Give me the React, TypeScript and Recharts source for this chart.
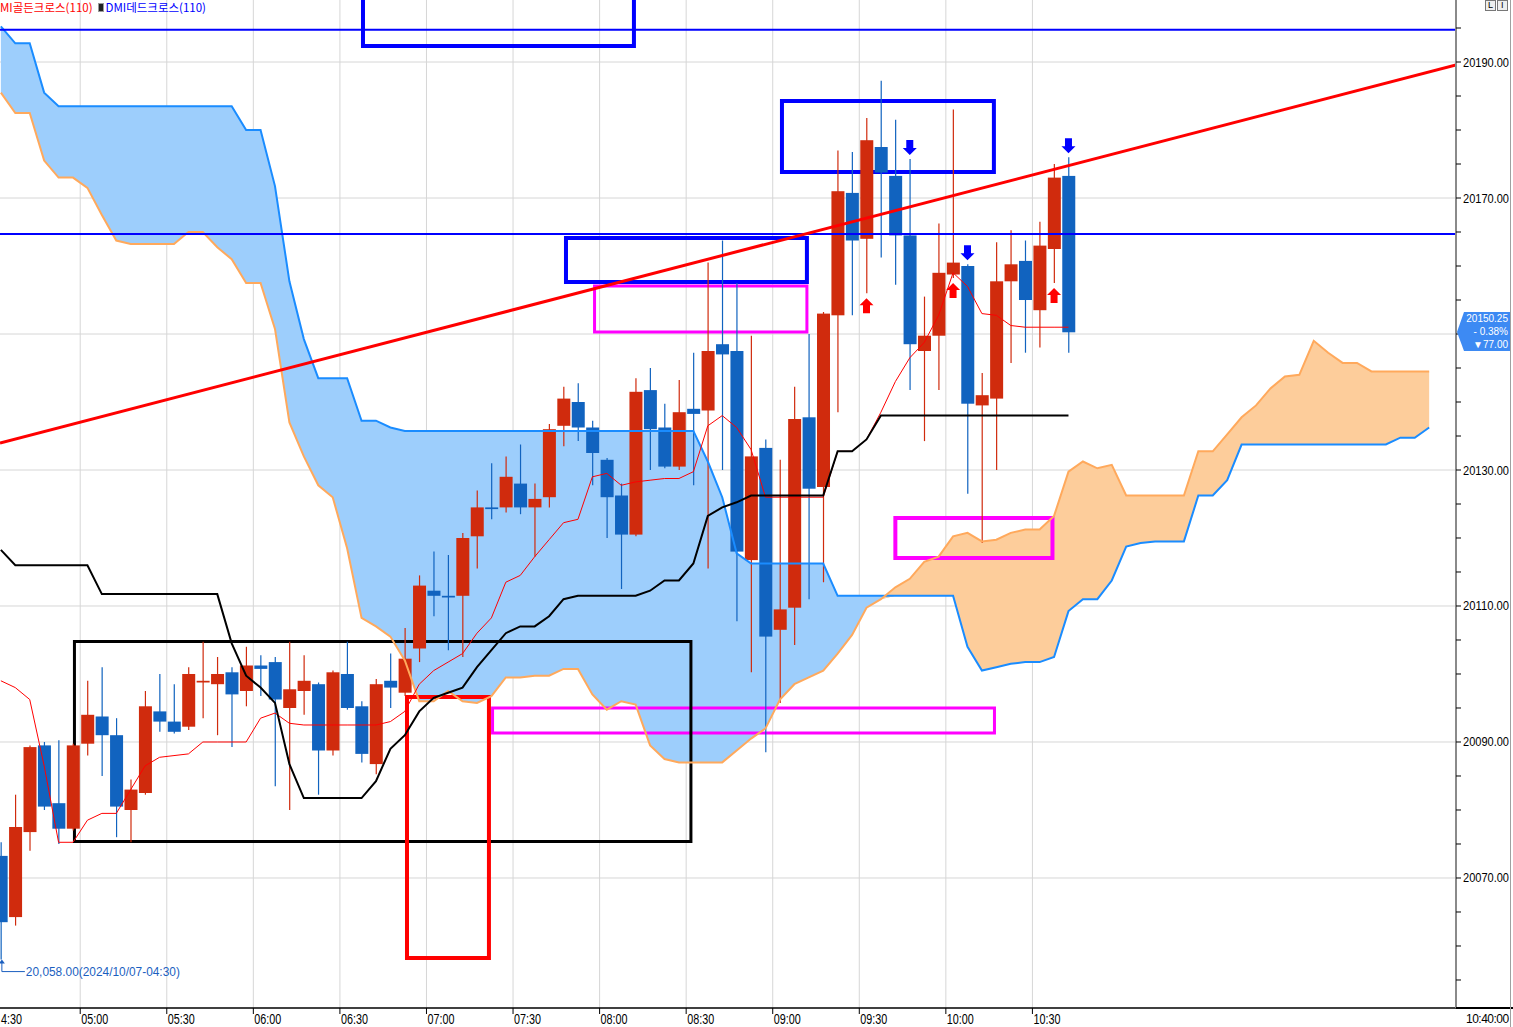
import {
  Area,
  Bar,
  CartesianGrid,
  ComposedChart,
  Line,
  ReferenceArea,
  ReferenceDot,
  ReferenceLine,
  XAxis,
  YAxis,
} from "recharts";

const CHART_WIDTH = 1513;
const CHART_HEIGHT = 1027;

const UP_COLOR = "#d02b0d";
const DOWN_COLOR = "#1163bf";
const SPAN1_COLOR = "#1a8cff";
const SPAN2_COLOR = "#ffa95c";
const CLOUD_BLUE = "#9dcefc";
const CLOUD_ORANGE = "#fdcd9b";
const GRID_COLOR = "#d6d6d6";
const SIGNAL_BLUE = "#0000ff";
const SIGNAL_RED = "#ff0000";

const X_DOMAIN: [number, number] = [-0.06, 100.86];
const Y_DOMAIN: [number, number] = [20050.88, 20199.12];

// 5-minute candles, 04:30 .. 10:40
const openPrices = [
  20073.25, 20064.25, 20076.75, 20089.5, 20081, 20077.25, 20089.75, 20093.75, 20091, 20080,
  20082.5, 20094.5, 20093, 20092.25, 20098.75, 20098.5, 20100.25, 20097.5, 20101.25, 20101.75,
  20095, 20097.5, 20098.5, 20088.75, 20100, 20095.25, 20086.75, 20099, 20097.25, 20103.75,
  20112.25, 20111.5, 20111.5, 20120.25, 20124.5, 20124.5, 20128, 20124.5, 20126, 20136.5,
  20140, 20136.25, 20131.5, 20126.25, 20120.5, 20141.75, 20136.25, 20130.5, 20139, 20138.75,
  20148.5, 20147.5, 20116.75, 20133.25, 20106.5, 20109.75, 20137.75, 20127.5, 20152.75, 20170.75,
  20164, 20177.5, 20173.25, 20164.5, 20147.5, 20149.75, 20158.75, 20160, 20139.5, 20140.5,
  20157.75, 20160.75, 20153.5, 20162.5, 20173.25,
];
const highPrices = [
  20075.25, 20082.25, 20089.5, 20090, 20090.25, 20089.75, 20099, 20101, 20093.5, 20084.5,
  20097.5, 20100, 20098.5, 20101, 20104.75, 20102.5, 20101, 20104, 20102.75, 20102.5,
  20104.75, 20102.75, 20098.75, 20100.5, 20104.75, 20096, 20099.25, 20103, 20106.75, 20114.5,
  20118, 20117.5, 20120.75, 20127, 20131, 20132, 20133.75, 20128, 20136.75, 20142.25,
  20142.75, 20137.25, 20131.75, 20128, 20143.5, 20145, 20139.75, 20143.25, 20147.25, 20160.5,
  20163.75, 20157.5, 20149.75, 20134.5, 20131.5, 20142.25, 20150, 20153.25, 20177, 20176.75,
  20181.75, 20187.25, 20181.5, 20175.75, 20155.5, 20166.25, 20183, 20160.25, 20144.25, 20163.5,
  20165.25, 20163.75, 20166.5, 20175, 20176,
];
const lowPrices = [
  20058, 20063, 20074, 20080, 20075, 20077, 20088, 20085, 20076, 20075.25,
  20082.25, 20091.5, 20091.25, 20091.75, 20093.5, 20091, 20089.25, 20095.25, 20096.75, 20083.5,
  20080, 20094, 20082.25, 20088, 20094.75, 20087, 20085.25, 20095, 20096.75, 20101.75,
  20108.5, 20103.5, 20102.5, 20115.5, 20122.75, 20123.75, 20123.5, 20117.25, 20124.5, 20133.5,
  20134.25, 20127.75, 20120, 20112.5, 20120.25, 20130, 20130.25, 20130, 20127.75, 20115.5,
  20130, 20107.75, 20100.25, 20088.5, 20095.75, 20104.25, 20111, 20113.5, 20138.5, 20152.75,
  20156, 20161.25, 20157.25, 20141.75, 20134.25, 20141.75, 20158.25, 20126.5, 20119.25, 20130,
  20145.75, 20147.25, 20148, 20157.5, 20147.25,
];
const closePrices = [
  20063.5, 20077.5, 20089.25, 20080.5, 20077.25, 20089.5, 20094, 20091, 20080.5, 20083,
  20095.25, 20093, 20091.5, 20100, 20099, 20100, 20097, 20101.25, 20100.75, 20096.25,
  20097.75, 20099, 20088.75, 20100.25, 20095, 20088.25, 20098.5, 20098, 20102.25, 20113,
  20111.5, 20111.25, 20120, 20124.5, 20124.25, 20129, 20124.5, 20125.75, 20136, 20140.5,
  20136.25, 20132.5, 20126, 20120.5, 20141.5, 20136, 20130.5, 20138.5, 20138.25, 20147.5,
  20147, 20118, 20132, 20105.5, 20109.5, 20137.5, 20127.25, 20153, 20171, 20163.75,
  20178.5, 20173.75, 20164.5, 20148.5, 20149.75, 20159, 20160.5, 20139.75, 20141, 20157.75,
  20160.25, 20155, 20163, 20173, 20150.25,
];

// ichimoku: conversion / base lines (per candle)
const conversionLine = [
  20099, 20098, 20096.25, 20086.5, 20075.25, 20075.25, 20078.5, 20079.5, 20079.5, 20083,
  20086.5, 20087.75, 20088, 20088.25, 20090, 20090, 20090, 20090, 20093.5, 20094.25,
  20092.75, 20092.5, 20092.5, 20092.5, 20092.5, 20092.5, 20092.5, 20093, 20094.5, 20098.5,
  20100.5, 20101.75, 20103, 20106, 20108.25, 20113.5, 20114.5, 20117.25, 20119.75, 20122.25,
  20122.75, 20129, 20129.5, 20127.75, 20128.25, 20128.5, 20128.75, 20128.75, 20129.75, 20136.5,
  20138, 20136.25, 20133, 20126, 20126, 20126, 20126, 20126, 20132.75, 20132.75,
  20134.5, 20138.5, 20143, 20146.5, 20148.75, 20152.75, 20159, 20157, 20153, 20152.75,
  20151.25, 20151, 20151, 20151, 20151,
];
const baseLine = [
  20118.25, 20116, 20116, 20116, 20116, 20116, 20116, 20111.75, 20111.75, 20111.75,
  20111.75, 20111.75, 20111.75, 20111.75, 20111.75, 20111.75, 20104.5, 20099.75, 20098, 20095.75,
  20086.75, 20081.75, 20081.75, 20081.75, 20081.75, 20081.75, 20084.25, 20089, 20091, 20094.5,
  20096.5, 20097.25, 20098, 20101, 20103.5, 20106, 20107, 20107, 20108.5, 20111,
  20111.5, 20111.5, 20111.5, 20111.5, 20111.5, 20112.25, 20113.75, 20113.75, 20116.25, 20123.25,
  20124.5, 20125.25, 20126.25, 20126.25, 20126.25, 20126.25, 20126.25, 20126.25, 20132.75, 20132.75,
  20134.5, 20138, 20138, 20138, 20138, 20138, 20138, 20138, 20138, 20138,
  20138, 20138, 20138, 20138, 20138,
];

// leading spans (cloud runs 25 bars past the last candle)
const leadingSpan1 = [
  20195.25, 20192.75, 20192.75, 20185.5, 20183.5, 20183.5, 20183.5, 20183.5, 20183.5, 20183.5,
  20183.5, 20183.5, 20183.5, 20183.5, 20183.5, 20183.5, 20183.5, 20180, 20180, 20171.75,
  20157.75, 20149.25, 20143.5, 20143.5, 20143.5, 20137.25, 20137.25, 20136.25, 20135.75, 20135.75,
  20135.75, 20135.75, 20135.75, 20135.75, 20135.75, 20135.75, 20135.75, 20135.75, 20135.75, 20135.75,
  20135.75, 20135.75, 20135.75, 20135.75, 20135.75, 20135.75, 20135.75, 20135.75, 20135.75, 20131.25,
  20126, 20117.75, 20116.25, 20116.25, 20116.25, 20116.25, 20116.25, 20116.25, 20111.5, 20111.5,
  20111.5, 20111.5, 20111.5, 20111.5, 20111.5, 20111.5, 20111.5, 20104, 20100.5, 20101,
  20101.5, 20101.75, 20101.75, 20102.5, 20109.25, 20111, 20111, 20113.75, 20118.75, 20119.25,
  20119.5, 20119.5, 20119.5, 20126.25, 20126.25, 20128.5, 20133.75, 20133.75, 20133.75, 20133.75,
  20133.75, 20133.75, 20133.75, 20133.75, 20133.75, 20133.75, 20133.75, 20134.75, 20134.75, 20136.25,
];
const leadingSpan2 = [
  20185.5, 20182.5, 20182.5, 20175.5, 20173, 20173, 20171.5, 20167.5, 20163.75, 20163.25,
  20163.25, 20163.25, 20163.25, 20165, 20165, 20162.75, 20161, 20157.5, 20157.5, 20150.75,
  20137, 20132, 20127.75, 20126, 20118.5, 20108.25, 20107, 20105.5, 20102, 20096,
  20096, 20097.5, 20096, 20095.75, 20096.75, 20099.5, 20099.5, 20099.75, 20099.75, 20100.75,
  20100.75, 20097, 20094.75, 20096, 20095.5, 20089.5, 20087.5, 20087, 20087, 20087,
  20087, 20088.75, 20090.5, 20092, 20096.25, 20098.5, 20099.5, 20100.5, 20103, 20105.75,
  20109.75, 20111, 20112.75, 20114, 20116.5, 20117.25, 20120.25, 20120.75, 20119.5, 20119.75,
  20120.75, 20121.25, 20121.25, 20123.25, 20129.75, 20131.25, 20130.25, 20130.75, 20126.25, 20126.25,
  20126.25, 20126.25, 20126.25, 20132.75, 20132.75, 20135.25, 20137.75, 20139.5, 20142, 20143.75,
  20144, 20149, 20147.25, 20145.75, 20145.75, 20144.5, 20144.5, 20144.5, 20144.5, 20144.5,
];

// DMI cross signals (candle index)
const goldenCrossBars = [60, 66, 73];
const deadCrossBars = [63, 67, 74];

// axis ticks
const timeTickIndexes = [-0.5, 5.5, 11.5, 17.5, 23.5, 29.5, 35.5, 41.5, 47.5, 53.5, 59.5, 65.5, 71.5];
const timeLabels = ["4:30", "05:00", "05:30", "06:00", "06:30", "07:00", "07:30", "08:00", "08:30", "09:00", "09:30", "10:00", "10:30"];
const priceTicks = [
  20055, 20060, 20065, 20070, 20075, 20080, 20085, 20090, 20095, 20100, 20105, 20110, 20115,
  20120, 20125, 20130, 20135, 20140, 20145, 20150, 20155, 20160, 20165, 20170, 20175, 20180,
  20185, 20190, 20195,
];
const priceGridTicks = [20190, 20170, 20150, 20130, 20110, 20090, 20070];
// 20150.00 sits under the last-price marker, so it is not written
const priceLabelTicks = [20190, 20170, 20130, 20110, 20090, 20070];

// drawn annotations (bar index / price)
const horizontalLevels = [20194.75, 20164.7];
const trendLine = [
  { x: -0.06, y: 20133.97 },
  { x: 100.86, y: 20189.56 },
];
const annotationBoxes = [
  { x1: 41.15, x2: 55.87, y1: 20150.29, y2: 20157.06, color: "#ff00ff", width: 3 },
  { x1: 62.0, x2: 72.89, y1: 20117.06, y2: 20122.94, color: "#ff00ff", width: 4 },
  { x1: 34.08, x2: 68.87, y1: 20091.32, y2: 20095.0, color: "#ff00ff", width: 3 },
  { x1: 5.1, x2: 47.83, y1: 20075.37, y2: 20104.78, color: "#000000", width: 3 },
  { x1: 28.15, x2: 33.83, y1: 20058.24, y2: 20096.62, color: "#ff0000", width: 4 },
  { x1: 25.1, x2: 43.88, y1: 20192.35, y2: 20206, color: "#0000ff", width: 4 },
  { x1: 54.14, x2: 68.83, y1: 20173.82, y2: 20184.26, color: "#0000ff", width: 4 },
  { x1: 39.17, x2: 55.87, y1: 20157.65, y2: 20164.12, color: "#0000ff", width: 4 },
];

const chartData = leadingSpan1.map((span1, i) => ({
  i,
  span1,
  span2: leadingSpan2[i],
  open: openPrices[i],
  high: highPrices[i],
  low: lowPrices[i],
  close: closePrices[i],
  conv: conversionLine[i],
  base: baseLine[i],
}));

const lastClose = closePrices[closePrices.length - 1];
const lowLabel = `${lowPrices[0].toLocaleString("en-US", {
  minimumFractionDigits: 2,
})}(2024/10/07-04:30)`;

function CandleShape(props: any) {
  const { x, y, width, height, payload } = props;
  if (!payload || payload.open == null) {
    return null;
  }
  if (!Number.isFinite(y) || !Number.isFinite(height)) {
    return null;
  }

  const top = Math.min(y, y + height);
  const span = Math.abs(height);
  const range = payload.high - payload.low || 1;
  const toY = (value: number) => top + ((payload.high - value) / range) * span;
  const up = payload.close >= payload.open;
  const color = up ? UP_COLOR : DOWN_COLOR;
  const cx = x + width / 2;
  const bodyTop = toY(Math.max(payload.open, payload.close));
  const bodyBottom = toY(Math.min(payload.open, payload.close));

  return (
    <g>
      <line x1={cx} x2={cx} y1={top} y2={top + span} stroke={color} strokeWidth={1.2} />
      <rect
        x={x}
        y={bodyTop}
        width={width}
        height={Math.max(1.5, bodyBottom - bodyTop)}
        fill={color}
      />
    </g>
  );
}

function DownArrow({ cx, cy }: any) {
  const tip = cy - 4;
  return (
    <path
      d={`M${cx - 3.5},${tip - 15} H${cx + 3.5} V${tip - 7} H${cx + 7} L${cx},${tip} L${cx - 7},${tip - 7} H${cx - 3.5} Z`}
      fill={SIGNAL_BLUE}
    />
  );
}

function UpArrow({ cx, cy }: any) {
  const tip = cy + 5;
  return (
    <path
      d={`M${cx - 3.5},${tip + 15} H${cx + 3.5} V${tip + 7} H${cx + 7} L${cx},${tip} L${cx - 7},${tip + 7} H${cx - 3.5} Z`}
      fill={SIGNAL_RED}
    />
  );
}

function LowMarker({ cx, cy }: any) {
  const color = "#1b5fbf";
  return (
    <g>
      <path d={`M${cx + 1},${cy} L${cx - 2},${cy + 4} L${cx + 4},${cy + 4} Z`} fill={color} />
      <path d={`M${cx + 1},${cy + 2} V${cy + 12} H${cx + 24}`} stroke={color} fill="none" />
      <text
        x={cx + 25}
        y={cy + 16}
        fill={color}
        fontSize={12}
        fontFamily="Liberation Sans, Arial, sans-serif"
        textLength={154}
        lengthAdjust="spacingAndGlyphs"
      >
        {lowLabel}
      </text>
    </g>
  );
}

function TimeTick({ x, y, payload }: any) {
  const index = timeTickIndexes.indexOf(payload.value);
  const label = timeLabels[index] ?? "";
  const first = index === 0;
  return (
    <g>
      <line x1={x} x2={x} y1={y} y2={y + 6} stroke="#000" />
      <text
        x={first ? 1 : x + 1}
        y={y + 16}
        fill="#000"
        fontSize={14}
        fontFamily="Liberation Sans, Arial, sans-serif"
        textLength={first ? 21 : 27}
        lengthAdjust="spacingAndGlyphs"
      >
        {label}
      </text>
    </g>
  );
}

function PriceTick({ x, y, payload }: any) {
  const value = Number(payload.value);
  const major = priceLabelTicks.includes(value);
  return (
    <g>
      <line x1={x} x2={x + 5} y1={y} y2={y} stroke="#000" />
      {major ? (
        <text
          x={x + 7}
          y={y + 4.5}
          fill="#000"
          fontSize={12}
          fontFamily="Liberation Sans, Arial, sans-serif"
          textLength={46}
          lengthAdjust="spacingAndGlyphs"
        >
          {value.toFixed(2)}
        </text>
      ) : null}
    </g>
  );
}

export default function App() {
  return (
    <div
      style={{
        position: "absolute",
        left: 0,
        top: 0,
        width: CHART_WIDTH,
        height: CHART_HEIGHT,
        background: "#ffffff",
        overflow: "hidden",
      }}
    >
      <ComposedChart
        width={CHART_WIDTH}
        height={CHART_HEIGHT}
        data={chartData}
        margin={{ top: 0, right: 0, bottom: 0, left: 0 }}
      >
        <CartesianGrid
          stroke={GRID_COLOR}
          horizontalValues={priceGridTicks}
          verticalValues={timeTickIndexes.slice(1)}
        />
        <XAxis
          dataKey="i"
          type="number"
          domain={X_DOMAIN}
          allowDataOverflow
          ticks={timeTickIndexes}
          interval={0}
          height={19}
          tickSize={0}
          tickMargin={0}
          tick={<TimeTick />}
          axisLine={{ stroke: "#000", strokeWidth: 1.5 }}
        />
        <YAxis
          orientation="right"
          type="number"
          domain={Y_DOMAIN}
          allowDataOverflow
          ticks={priceTicks}
          interval={0}
          width={57}
          tickSize={0}
          tickMargin={0}
          tick={<PriceTick />}
          axisLine={{ stroke: "#8a8a8a", strokeWidth: 2 }}
        />

        <Area
          type="linear"
          dataKey={(d: any) => [Math.min(d.span1, d.span2), d.span1]}
          fill={CLOUD_BLUE}
          fillOpacity={1}
          stroke="none"
          isAnimationActive={false}
          activeDot={false}
        />
        <Area
          type="linear"
          dataKey={(d: any) => [Math.min(d.span1, d.span2), d.span2]}
          fill={CLOUD_ORANGE}
          fillOpacity={1}
          stroke="none"
          isAnimationActive={false}
          activeDot={false}
        />
        <Line
          type="linear"
          dataKey="span1"
          stroke={SPAN1_COLOR}
          strokeWidth={2}
          dot={false}
          activeDot={false}
          isAnimationActive={false}
        />
        <Line
          type="linear"
          dataKey="span2"
          stroke={SPAN2_COLOR}
          strokeWidth={2}
          dot={false}
          activeDot={false}
          isAnimationActive={false}
        />
        <Line
          type="linear"
          dataKey="conv"
          stroke="#ff0000"
          strokeWidth={1}
          dot={false}
          activeDot={false}
          isAnimationActive={false}
        />
        <Line
          type="linear"
          dataKey="base"
          stroke="#000000"
          strokeWidth={2}
          dot={false}
          activeDot={false}
          isAnimationActive={false}
        />
        <Bar
          dataKey={(d: any) => (d.open == null ? undefined : [d.low, d.high])}
          barSize={13}
          shape={<CandleShape />}
          isAnimationActive={false}
        />

        {horizontalLevels.map((level) => (
          <ReferenceLine key={level} y={level} stroke="#0000ff" strokeWidth={2} />
        ))}
        {annotationBoxes.map((box, index) => (
          <ReferenceArea
            key={index}
            x1={box.x1}
            x2={box.x2}
            y1={box.y1}
            y2={box.y2}
            fill="none"
            stroke={box.color}
            strokeWidth={box.width}
            ifOverflow="hidden"
          />
        ))}
        <ReferenceLine
          segment={trendLine}
          stroke="#ff0000"
          strokeWidth={3}
          ifOverflow="hidden"
        />
        {deadCrossBars.map((bar) => (
          <ReferenceDot key={`d${bar}`} x={bar} y={highPrices[bar]} r={1} shape={<DownArrow />} />
        ))}
        {goldenCrossBars.map((bar) => (
          <ReferenceDot key={`g${bar}`} x={bar} y={lowPrices[bar]} r={1} shape={<UpArrow />} />
        ))}
        <ReferenceDot x={0} y={lowPrices[0]} r={1} shape={<LowMarker />} ifOverflow="visible" />
      </ComposedChart>

      {/* indicator legend */}
      <div
        style={{
          position: "absolute",
          left: 0,
          top: 1,
          fontFamily: "'Noto Sans CJK KR', sans-serif",
          fontSize: 11.5,
          lineHeight: "13px",
          whiteSpace: "nowrap",
          display: "flex",
          alignItems: "center",
        }}
      >
        <span style={{ color: "#ff0000" }}>MI골든크로스(110)</span>
        <span
          style={{
            display: "inline-block",
            width: 4,
            height: 7,
            margin: "0 2px 0 5px",
            background: "#222",
            border: "1px solid #9a9a9a",
          }}
        />
        <span style={{ color: "#0000ff" }}>DMI데드크로스(110)</span>
      </div>

      {/* last price marker on the price axis */}
      <div
        style={{
          position: "absolute",
          left: 1457,
          top: 312,
          width: 54,
          height: 39,
          background: "#3d8af3",
          clipPath: "polygon(7px 0, 100% 0, 100% 100%, 7px 100%, 0 20px)",
          color: "#ffffff",
          fontFamily: "Liberation Sans, Arial, sans-serif",
          fontSize: 10,
          lineHeight: "13px",
          textAlign: "right",
          paddingRight: 3,
          boxSizing: "border-box",
        }}
      >
        <div>{lastClose.toFixed(2)}</div>
        <div>- 0.38%</div>
        <div>▼77.00</div>
      </div>

      <div
        style={{
          position: "absolute",
          left: 1456,
          top: 1007,
          width: 57,
          height: 1.5,
          background: "#000",
        }}
      />
      <div
        style={{
          position: "absolute",
          left: 1466,
          top: 1012,
          fontFamily: "Liberation Sans, Arial, sans-serif",
          fontSize: 12,
          letterSpacing: -0.5,
        }}
      >
        10:40:00
      </div>
      <div
        style={{
          position: "absolute",
          left: 1510,
          top: 0,
          width: 1,
          height: CHART_HEIGHT,
          background: "#a0a0a0",
        }}
      />
      <div
        style={{
          position: "absolute",
          left: 1485,
          top: 0,
          display: "flex",
          gap: 1,
          fontFamily: "Liberation Sans, Arial, sans-serif",
          fontSize: 9,
          lineHeight: "9px",
        }}
      >
        <span style={{ border: "1px solid #777", background: "#eee", padding: "0 2px" }}>L</span>
        <span style={{ border: "1px solid #777", background: "#eee", padding: "0 3px" }}>I</span>
      </div>
    </div>
  );
}
